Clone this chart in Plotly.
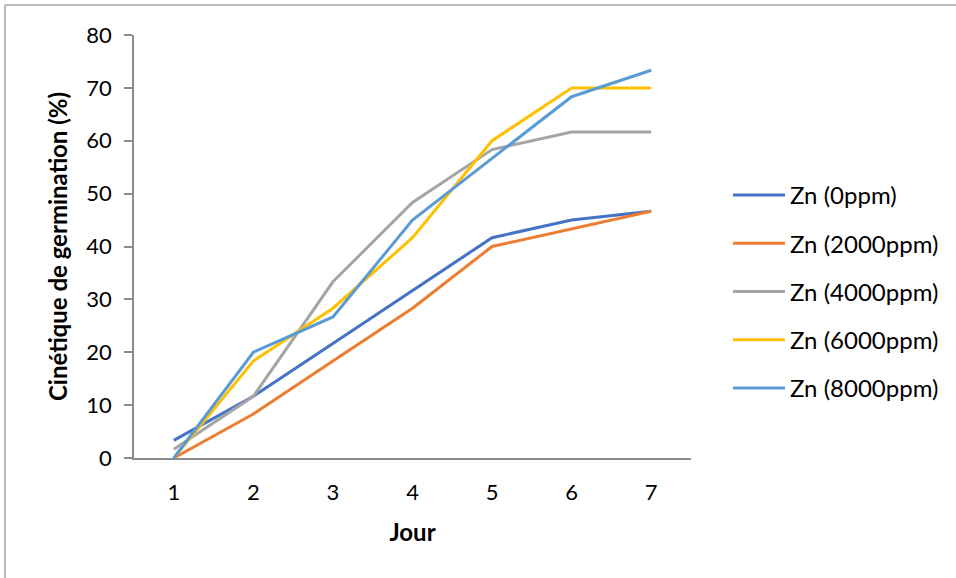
import plotly.graph_objects as go

days = [1, 2, 3, 4, 5, 6, 7]
zn_0 = [3.33, 11.67, 21.67, 31.67, 41.67, 45.0, 46.67]
zn_2000 = [0.0, 8.33, 18.33, 28.33, 40.0, 43.33, 46.67]
zn_4000 = [1.67, 11.67, 33.33, 48.33, 58.33, 61.67, 61.67]
zn_6000 = [0.0, 18.33, 28.33, 41.67, 60.0, 70.0, 70.0]
zn_8000 = [0.0, 20.0, 26.67, 45.0, 56.67, 68.33, 73.33]

series_names = ["Zn (0ppm)", "Zn (2000ppm)", "Zn (4000ppm)", "Zn (6000ppm)", "Zn (8000ppm)"]
series_values = [zn_0, zn_2000, zn_4000, zn_6000, zn_8000]
colors = ["#4472C4", "#ED7D31", "#A5A5A5", "#FFC000", "#5B9BD5"]

FONT = "Lato, 'Liberation Sans', sans-serif"

fig = go.Figure()
for i, (name, vals, col) in enumerate(zip(series_names, series_values, colors)):
    fig.add_trace(go.Scatter(
        x=days, y=vals, mode="lines", name=name,
        line=dict(color=col, width=3),
        legendgroup=f"g{i}",
    ))

W, H = 956, 578
L, R, T, B = 134, 265, 35, 120
pw, ph = W - L - R, H - T - B

fig.update_layout(
    width=W, height=H,
    margin=dict(l=L, r=R, t=T, b=B),
    paper_bgcolor="white", plot_bgcolor="white",
    font=dict(family=FONT, size=22, color="#000000"),
    showlegend=True,
    legend=dict(
        x=(728 - L) / pw, xanchor="left",
        y=(H - B - 173) / ph, yanchor="top",
        traceorder="grouped", tracegroupgap=14,
        font=dict(size=24, family=FONT),
        itemwidth=52,
    ),
    xaxis=dict(
        range=[0.5, 7.5], tickmode="array", tickvals=days,
        ticktext=[str(d) for d in days],
        showgrid=False, zeroline=False,
        showline=True, linecolor="#8C8C8C", linewidth=1.5,
        ticks="", ticklabelstandoff=14,
        title=dict(text="<b>Jour</b>", font=dict(size=24), standoff=20),
    ),
    yaxis=dict(
        range=[0, 80], dtick=10, showgrid=False, zeroline=False,
        showline=True, linecolor="#8C8C8C", linewidth=1.5,
        ticks="outside", ticklen=8, tickcolor="#8C8C8C", tickwidth=1.5,
        ticklabelstandoff=8,
        title=dict(text="<b>Cinétique de germination (%)</b>", font=dict(size=24), standoff=12),
    ),
)

# outer frame of the chart area (top and left border)
fig.add_shape(type="line", xref="paper", yref="paper",
              x0=(5 - L) / pw, x1=(W - L) / pw, y0=(H - B - 5) / ph, y1=(H - B - 5) / ph,
              line=dict(color="#A6A6A6", width=1.5))
fig.add_shape(type="line", xref="paper", yref="paper",
              x0=(5 - L) / pw, x1=(5 - L) / pw, y0=(H - B - 5) / ph, y1=(H - B - H) / ph,
              line=dict(color="#A6A6A6", width=1.5))

fig.write_html("out.html", config={"displayModeBar": False},
               post_script="document.body.style.margin='0px';")
